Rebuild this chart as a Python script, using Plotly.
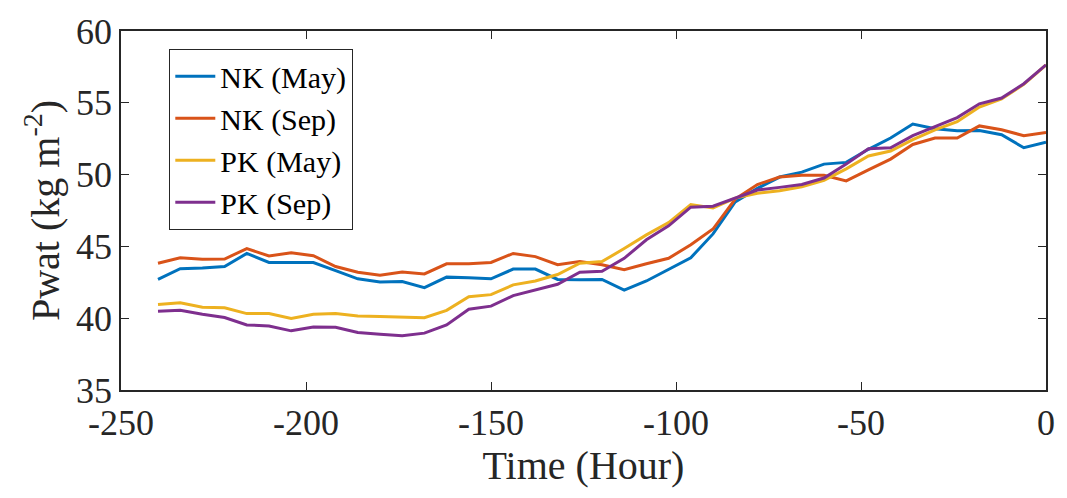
import plotly.graph_objects as go

hours = list(range(-240, 1, 6))

nk_may = [42.70, 43.45, 43.49, 43.60, 44.51, 43.88, 43.88, 43.88, 43.31, 42.74, 42.52, 42.55, 42.13, 42.86, 42.82, 42.74,
          43.42, 43.42, 42.70, 42.67, 42.70, 41.95, 42.59, 43.42, 44.21, 45.87,
          48.10, 49.04, 49.83, 50.17, 50.73, 50.85, 51.76, 52.55, 53.52, 53.19, 53.05, 53.07, 52.78, 51.87, 52.25]
nk_sep = [43.83, 44.21, 44.10, 44.12, 44.85, 44.33, 44.55, 44.35, 43.60, 43.20, 42.99, 43.22, 43.08, 43.79, 43.79, 43.88,
          44.51, 44.29, 43.72, 43.94, 43.72, 43.38, 43.79, 44.17, 45.12, 46.21,
          48.30, 49.31, 49.83, 49.95, 49.95, 49.56, 50.33, 51.08, 52.10, 52.55, 52.55, 53.39, 53.12, 52.71, 52.93]
pk_may = [40.96, 41.07, 40.77, 40.73, 40.32, 40.32, 39.98, 40.27, 40.32, 40.16, 40.12, 40.05, 40.03, 40.55, 41.50, 41.64,
          42.32, 42.59, 43.04, 43.83, 43.94, 44.85, 45.80, 46.66, 47.91, 47.68,
          48.36, 48.70, 48.88, 49.15, 49.60, 50.40, 51.30, 51.64, 52.44, 53.12, 53.68, 54.70, 55.27, 56.28, 57.64]
pk_sep = [40.48, 40.55, 40.27, 40.05, 39.53, 39.46, 39.12, 39.39, 39.37, 39.00, 38.89, 38.78, 38.96, 39.53, 40.62, 40.84,
          41.57, 41.95, 42.36, 43.20, 43.27, 44.17, 45.46, 46.43, 47.73, 47.80,
          48.36, 48.93, 49.11, 49.31, 49.76, 50.73, 51.80, 51.87, 52.71, 53.34, 53.97, 54.93, 55.33, 56.33, 57.64]

x_ticks = [-250, -200, -150, -100, -50, 0]
x_ticktext = ["-250", "-200", "-150", "-100", "-50", "0"]
y_ticks = [35, 40, 45, 50, 55, 60]

series = [("NK (May)", nk_may, "#0072BD"),
          ("NK (Sep)", nk_sep, "#D95319"),
          ("PK (May)", pk_may, "#EDB120"),
          ("PK (Sep)", pk_sep, "#7E2F8E")]

fig = go.Figure()
for name, vals, col in series:
    fig.add_trace(go.Scatter(x=hours, y=vals, mode="lines", name=name,
                             line=dict(color=col, width=3)))

font = "Liberation Serif, Times New Roman, serif"
axcol = "#262626"
fig.update_layout(
    width=1067, height=498,
    margin=dict(l=121, r=19, t=22, b=108),
    paper_bgcolor="white", plot_bgcolor="white",
    font=dict(family=font, size=36, color=axcol),
    showlegend=True,
    legend=dict(x=0.052, y=0.95, xanchor="left", yanchor="top",
                bordercolor=axcol, borderwidth=1.2, bgcolor="white",
                font=dict(family=font, size=30, color="black"),
                tracegroupgap=0, itemwidth=40),
)
fig.update_xaxes(range=[-250, 0], tickvals=x_ticks, ticktext=x_ticktext,
                 ticks="inside", ticklen=8, tickwidth=1.2, tickcolor=axcol,
                 showline=True, linecolor=axcol, linewidth=1.5, mirror="ticks",
                 showgrid=False, zeroline=False,
                 tickfont=dict(size=36, color=axcol),
                 title=dict(text="Time (Hour)", font=dict(size=40, color=axcol), standoff=8))
fig.update_yaxes(range=[35, 60], tickvals=y_ticks,
                 ticks="inside", ticklen=8, tickwidth=1.2, tickcolor=axcol,
                 showline=True, linecolor=axcol, linewidth=1.5, mirror="ticks",
                 showgrid=False, zeroline=False,
                 tickfont=dict(size=36, color=axcol),
                 title=dict(text="Pwat (kg m<sup>-2</sup>)", font=dict(size=40, color=axcol), standoff=4))

fig.write_html("out.html")
